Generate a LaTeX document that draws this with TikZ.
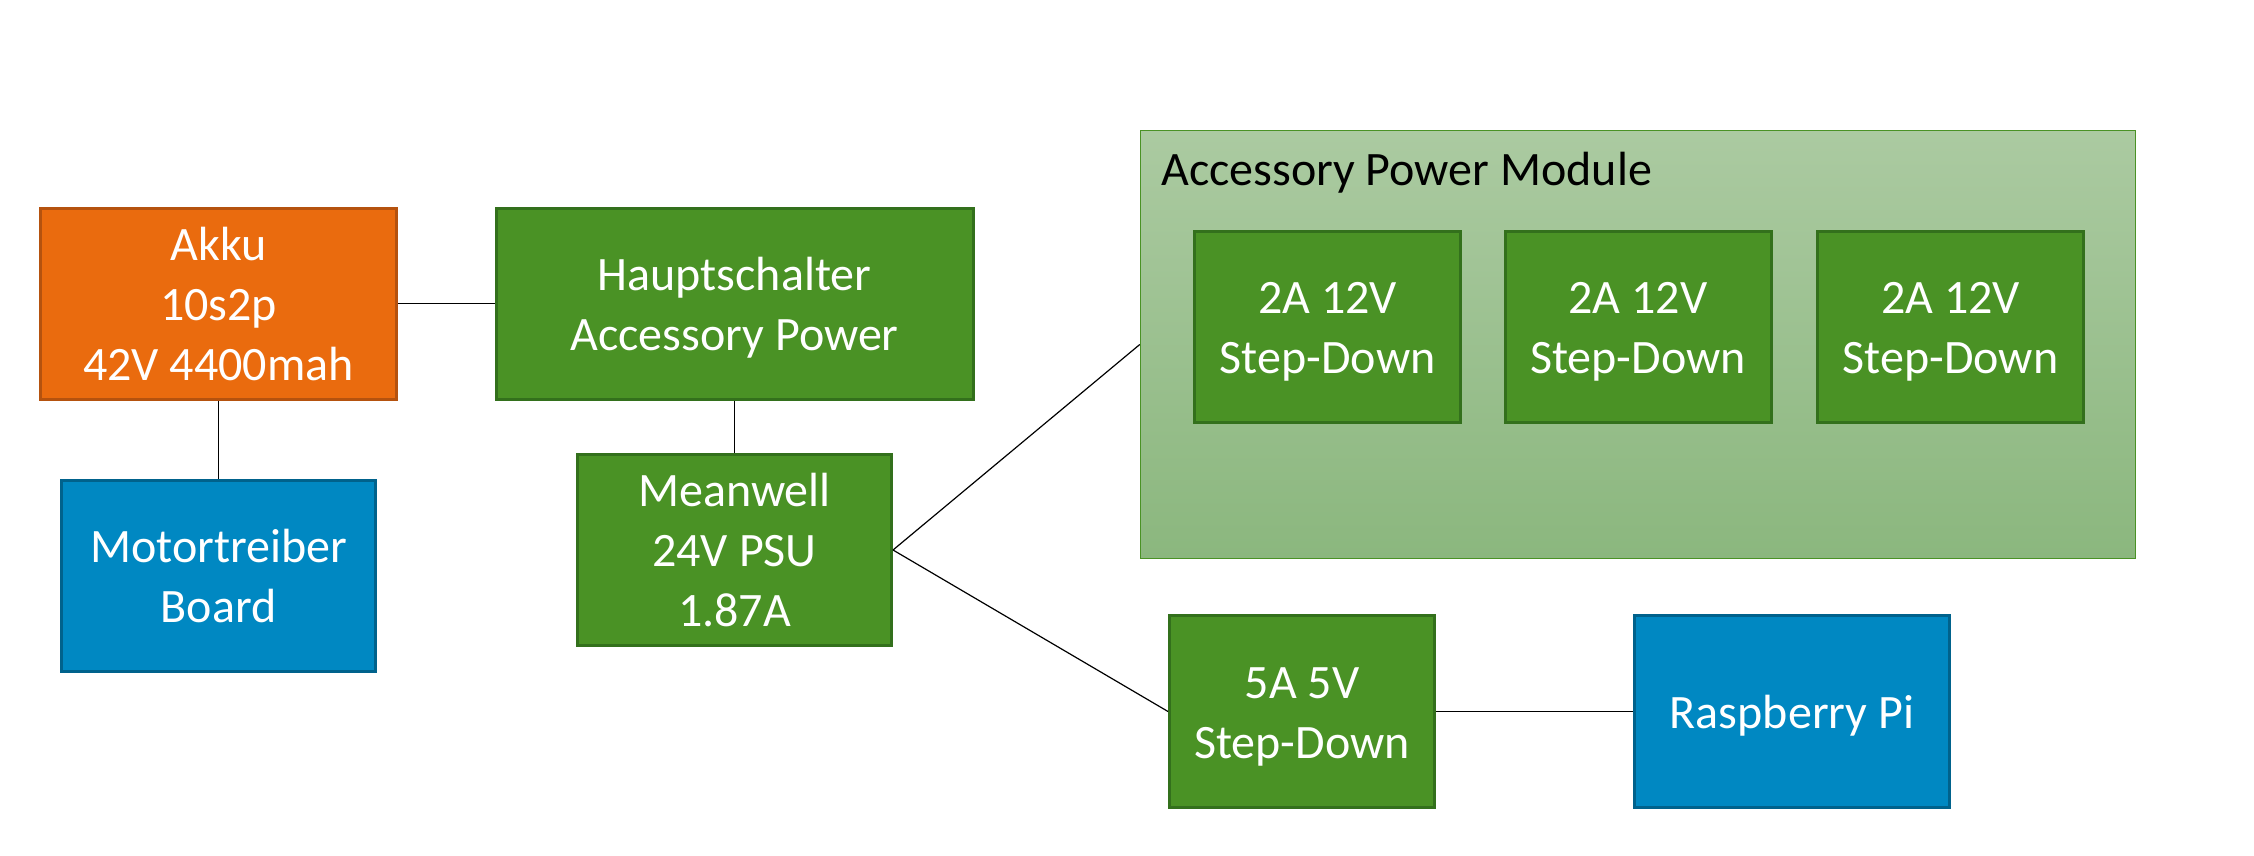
\documentclass[tikz,border=0pt]{standalone}
\usepackage{fontspec}
\setmainfont{Carlito}
\definecolor{orfill}{RGB}{234,107,14}
\definecolor{ordraw}{RGB}{181,82,14}
\definecolor{grfill}{RGB}{74,146,37}
\definecolor{grdraw}{RGB}{51,112,28}
\definecolor{blfill}{RGB}{0,136,194}
\definecolor{bldraw}{RGB}{0,98,140}
\definecolor{cttop}{RGB}{171,202,161}
\definecolor{ctbot}{RGB}{139,183,126}
\newcommand\lnstrut{\rule[-13pt]{0pt}{59pt}}
\begin{document}
\begin{tikzpicture}[x=1pt,y=-1pt,
  box/.style={rectangle, line width=3pt, text=white, align=center, inner sep=0pt,
    font=\fontsize{48}{58}\selectfont},
  orbox/.style={box, fill=orfill, draw=ordraw},
  grbox/.style={box, fill=grfill, draw=grdraw},
  blbox/.style={box, fill=blfill, draw=bldraw},
  conn/.style={line width=1.2pt, black}]
\useasboundingbox (0,0) rectangle (2254,856);
% container
\node[rectangle, minimum width=995pt, minimum height=428pt, inner sep=0pt,
  top color=cttop, bottom color=ctbot, draw=grfill, line width=1.5pt]
  (apm) at (1638,344.5) {};
\node[anchor=base west, inner sep=0pt, font=\fontsize{48}{58}\selectfont] (apmtitle) at (1161,185) {Accessory Power Module};
% nodes
\node[orbox, minimum width=356pt, minimum height=191pt] (akku) at (218.5,303.5) {\lnstrut Akku\\\lnstrut 10s2p\\\lnstrut 42V 4400mah};
\node[blbox, minimum width=314pt, minimum height=191pt] (motor) at (218.5,576) {\lnstrut Motortreiber\\\lnstrut Board};
\node[grbox, minimum width=477pt, minimum height=191pt] (haupt) at (734.5,303.5) {\lnstrut Hauptschalter\\\lnstrut Accessory Power};
\node[grbox, minimum width=314pt, minimum height=191pt] (mean) at (734.5,550) {\lnstrut Meanwell\\\lnstrut 24V PSU\\\lnstrut 1.87A};
\node[grbox, minimum width=266pt, minimum height=191pt] (sd1) at (1327.75,327) {\lnstrut 2A 12V\\\lnstrut Step-Down};
\node[grbox, minimum width=266pt, minimum height=191pt] (sd2) at (1638,327) {\lnstrut 2A 12V\\\lnstrut Step-Down};
\node[grbox, minimum width=266pt, minimum height=191pt] (sd3) at (1950.5,327) {\lnstrut 2A 12V\\\lnstrut Step-Down};
\node[grbox, minimum width=265pt, minimum height=192pt] (sd5) at (1302,711.5) {\lnstrut 5A 5V\\\lnstrut Step-Down};
\node[blbox, minimum width=315pt, minimum height=192pt] (rpi) at (1792,711.5) {\lnstrut Raspberry Pi};
% connectors
\draw[conn] (akku.east) -- (haupt.west);
\draw[conn] (akku.south) -- (motor.north);
\draw[conn] (haupt.south) -- (mean.north);
\draw[conn] (mean.east) -- (apm.west);
\draw[conn] (mean.east) -- (sd5.west);
\draw[conn] (sd5.east) -- (rpi.west);
\end{tikzpicture}
\end{document}
